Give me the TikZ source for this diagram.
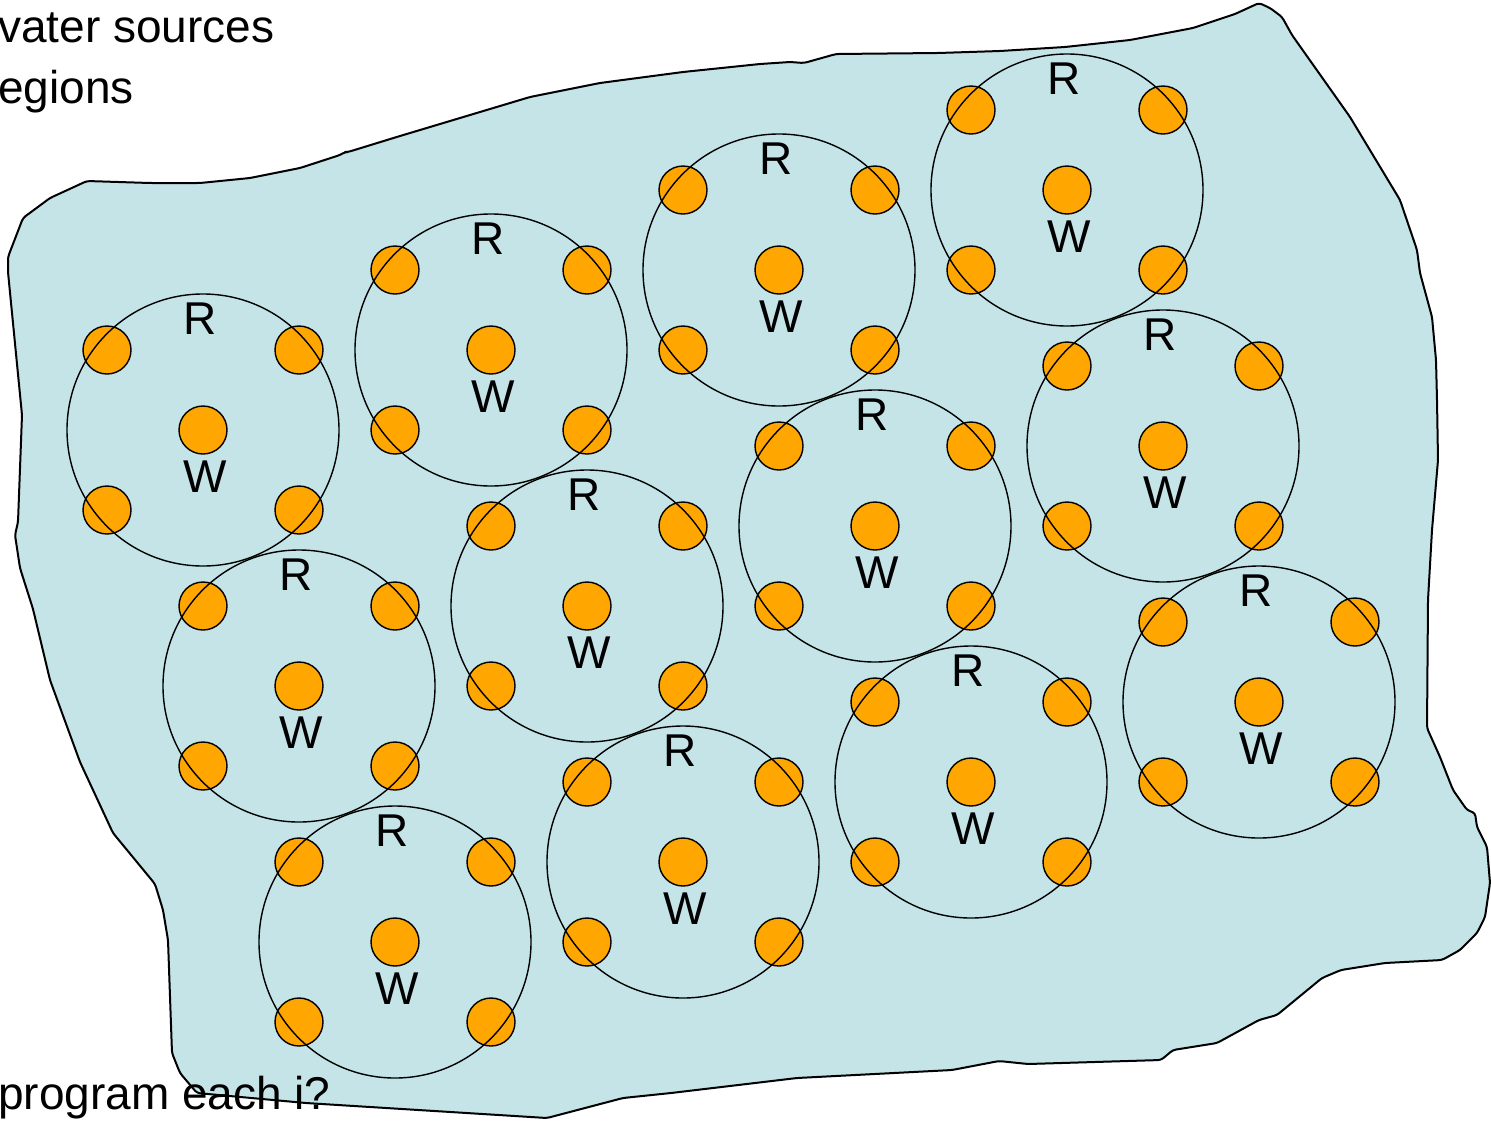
\documentclass[tikz,border=0pt]{standalone}
\usepackage{fontspec}
\setmainfont{Liberation Sans}
\definecolor{sea}{RGB}{196,228,231}
\definecolor{src}{RGB}{255,166,0}
\begin{document}
\begin{tikzpicture}[x=1pt,y=-1pt,
  dot/.style={circle,draw=black,line width=1.4pt,fill=src,minimum size=48pt,inner sep=0pt},
  region/.style={circle,draw=black,line width=1.4pt,minimum size=272pt,inner sep=0pt},
  lbl/.style={font=\fontsize{46}{46}\selectfont,inner sep=0pt,anchor=base},
  txt/.style={font=\fontsize{46}{55}\selectfont,inner sep=0pt,anchor=base west},
  shore/.style={draw=black,line width=2pt,fill=sea,line join=round,rounded corners=3pt}]
\useasboundingbox (0,0) rectangle (1491,1120);
% land / lake outline
\path[shore] (87,181) -- (150,183) -- (200,183) -- (250,178) -- (300,168) -- (340,155) -- (345,152) -- (348,152)
 -- (400,136) -- (470,115) -- (530,97) -- (600,83) -- (683,72) -- (760,64) -- (790,62) -- (804,63) -- (836,54)
 -- (938,53) -- (1000,51) -- (1065,47) -- (1130,40) -- (1193,28) -- (1235,14) -- (1259,3) -- (1270,8) -- (1282,17)
 -- (1292,35) -- (1350,117) -- (1400,200) -- (1417,250) -- (1420,273) -- (1432,317) -- (1436,360) -- (1437,400)
 -- (1438,460) -- (1432,530) -- (1428,600) -- (1427,728) -- (1440,757) -- (1453,790) -- (1467,810) -- (1475,813)
 -- (1477,827) -- (1487,847) -- (1490,883) -- (1485,917) -- (1477,933) -- (1460,950) -- (1442,960) -- (1385,963)
 -- (1341,970) -- (1322,978) -- (1277,1015) -- (1259,1020) -- (1217,1043) -- (1173,1050) -- (1161,1060)
 -- (1028,1064) -- (999,1061) -- (952,1070) -- (797,1078) -- (671,1093) -- (623,1098) -- (547,1118)
 -- (306,1103) -- (197,1093) -- (180,1073) -- (172,1053) -- (168,940) -- (163,910) -- (155,884) -- (113,833)
 -- (80,762) -- (50,680) -- (33,609) -- (20,568) -- (15,535) -- (18,522) -- (22,415) -- (8,272) -- (8,257)
 -- (23,218) -- (50,198) -- cycle;
% sources
\foreach \i/\cx/\cy in {1/203/430,2/491/350,3/779/270,4/1067/190,5/299/686,6/587/606,7/875/526,8/1163/446,
                        9/395/942,10/683/862,11/971/782,12/1259/702} {
  \node[dot] (w\i) at (\cx,\cy) {};
  \node[dot] (a\i) at ({\cx-96},{\cy-80}) {};
  \node[dot] (b\i) at ({\cx+96},{\cy-80}) {};
  \node[dot] (c\i) at ({\cx-96},{\cy+80}) {};
  \node[dot] (d\i) at ({\cx+96},{\cy+80}) {};
}
% regions and labels
\foreach \i/\cx/\cy in {1/203/430,2/491/350,3/779/270,4/1067/190,5/299/686,6/587/606,7/875/526,8/1163/446,
                        9/395/942,10/683/862,11/971/782,12/1259/702} {
  \node[region] (r\i) at (\cx,\cy) {};
  \node[lbl] (lr\i) at ({\cx-3},{\cy-96}) {R};
  \node[lbl] (lw\i) at ({\cx+2},{\cy+62}) {W};
}
% texts
\node[txt] (t1) at (-2,42) {vater sources};
\node[txt] (t2) at (-2,103) {egions};
\node[txt] (t3) at (-2,1109) {program each i?};
\end{tikzpicture}
\end{document}
